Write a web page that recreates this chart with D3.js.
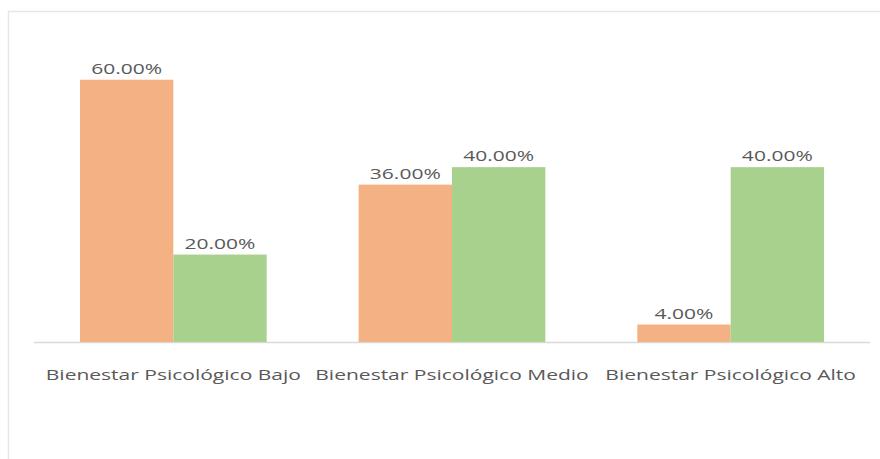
<!DOCTYPE html>
<html>
<head>
<meta charset="utf-8">
<script src="https://cdn.jsdelivr.net/npm/d3@7"></script>
<style>
  body { margin: 0; background: #fff; }
  svg { display: block; }
  text { font-family: "Open Sans", sans-serif; fill: #595959; }
</style>
</head>
<body>
<svg id="chart"></svg>
<script>
// data
const categories = ['Bienestar Psicológico Bajo', 'Bienestar Psicológico Medio', 'Bienestar Psicológico Alto'];
const seriesNames = ['Serie 1', 'Serie 2'];
const serie1 = [0.60, 0.36, 0.04];
const serie2 = [0.20, 0.40, 0.40];
const colors = ['#F4B183', '#A9D18E'];

const width = 880, height = 459;
const stretch = 1.4; // the original font is wider than Open Sans
const svg = d3.select('#chart').attr('width', width).attr('height', height);

// chart area frame (right/bottom run off the image)
svg.append('rect')
  .attr('x', 8.5).attr('y', 11.5)
  .attr('width', width + 10).attr('height', height + 10)
  .attr('fill', '#fff')
  .attr('stroke', '#e6e6e6')
  .attr('stroke-width', 1.5);

const plot = { left: 34, right: 870, top: 36, bottom: 342 };

const x0 = d3.scaleBand()
  .domain(categories)
  .range([plot.left, plot.right])
  .paddingInner(0.33)
  .paddingOuter(0.165);

const x1 = d3.scaleBand()
  .domain(seriesNames)
  .range([0, x0.bandwidth()]);

const y = d3.scaleLinear()
  .domain([0, 0.7])
  .range([plot.bottom, plot.top]);

const fmt = d3.format('.2%');

const rows = categories.map((c, i) => ({
  cat: c,
  vals: [serie1[i], serie2[i]]
}));

function widen(sel) {
  sel.each(function() {
    const w = this.getComputedTextLength();
    d3.select(this)
      .attr('textLength', w * stretch)
      .attr('lengthAdjust', 'spacingAndGlyphs');
  });
}

// baseline
svg.append('line')
  .attr('x1', plot.left).attr('x2', plot.right)
  .attr('y1', plot.bottom + 0.5).attr('y2', plot.bottom + 0.5)
  .attr('stroke', '#d9d9d9')
  .attr('stroke-width', 1.5);

const groups = svg.selectAll('.grp')
  .data(rows)
  .join('g')
  .attr('class', 'grp')
  .attr('transform', d => `translate(${x0(d.cat)},0)`);

groups.selectAll('rect')
  .data(d => d.vals.map((v, j) => ({ v, s: seriesNames[j], j })))
  .join('rect')
  .attr('x', d => x1(d.s))
  .attr('y', d => y(d.v))
  .attr('width', x1.bandwidth())
  .attr('height', d => y(0) - y(d.v))
  .attr('fill', d => colors[d.j]);

groups.selectAll('text.val')
  .data(d => d.vals.map((v, j) => ({ v, s: seriesNames[j], j })))
  .join('text')
  .attr('class', 'val')
  .attr('x', d => x1(d.s) + x1.bandwidth() / 2)
  .attr('y', d => y(d.v) - 6)
  .attr('text-anchor', 'middle')
  .attr('font-size', 15)
  .text(d => fmt(d.v))
  .call(widen);

// category labels
const xAxis = d3.axisBottom(x0).tickSize(0).tickPadding(0);
const ax = svg.append('g')
  .attr('transform', `translate(0,${plot.bottom})`)
  .call(xAxis);
ax.select('.domain').remove();
ax.selectAll('text')
  .attr('y', 38)
  .attr('dy', null)
  .attr('font-size', 15)
  .attr('font-family', '"Open Sans", sans-serif')
  .attr('fill', '#595959')
  .call(widen);
</script>
</body>
</html>
